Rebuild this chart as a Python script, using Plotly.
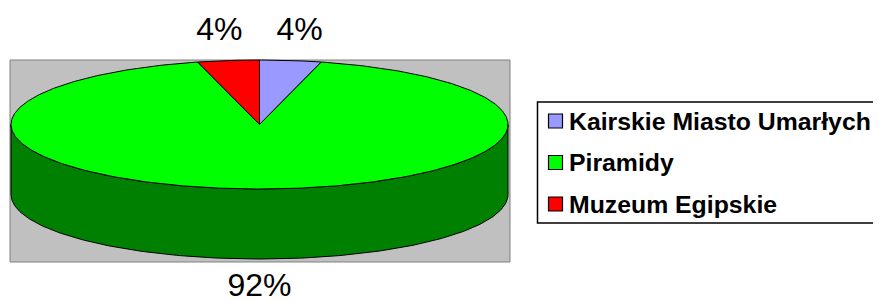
import numpy as np
import plotly.graph_objects as go

# ---- data ----
categories = ["Kairskie Miasto Umarłych", "Piramidy", "Muzeum Egipskie"]
values = [4, 92, 4]
top_colors = ["#9999FF", "#00FF00", "#FF0000"]
side_colors = ["#5C5C99", "#008000", "#990000"]

# ---- geometry (page pixel space; the page body has an 8px margin) ----
W, H = 881, 302
OFF = 8
cx, cy, rx, ry, depth = 259.5, 124.5, 248.5, 64.5, 70

def pt(theta_deg, dy=0.0):
    t = np.radians(theta_deg)
    return cx + rx * np.sin(t), cy - ry * np.cos(t) + dy

fig = go.Figure()

total = float(sum(values))
bounds = []
acc = 0.0
for v in values:
    a0 = acc / total * 360
    acc += v
    a1 = acc / total * 360
    bounds.append((a0, a1))

# side walls (visible front half: 90..270 deg)
for (a0, a1), col in zip(bounds, side_colors):
    s0, s1 = max(a0, 90), min(a1, 270)
    if s1 <= s0:
        continue
    th = np.linspace(s0, s1, 200)
    xt, yt = pt(th)
    xb, yb = pt(th[::-1], depth)
    xs = np.concatenate([xt, xb, xt[:1]])
    ys = np.concatenate([yt, yb, yt[:1]])
    fig.add_trace(go.Scatter(x=xs, y=ys, fill="toself", fillcolor=col, mode="lines",
                             line=dict(color="black", width=1), hoverinfo="skip", showlegend=False))

# top faces
for (a0, a1), col in zip(bounds, top_colors):
    th = np.linspace(a0, a1, max(int((a1 - a0) * 2), 10))
    xa, ya = pt(th)
    xs = np.concatenate([[cx], xa, [cx]])
    ys = np.concatenate([[cy], ya, [cy]])
    fig.add_trace(go.Scatter(x=xs, y=ys, fill="toself", fillcolor=col, mode="lines",
                             line=dict(color="black", width=1), hoverinfo="skip", showlegend=False))

# percentage labels
lx, ly = [], []
for (a0, a1) in bounds:
    m = np.radians((a0 + a1) / 2)
    x = cx + rx * 1.29 * np.sin(m)
    c = np.cos(m)
    y = cy - ry * 1.45 * c + (depth if c < 0 else 0)
    lx.append(x)
    ly.append(y)
fig.add_trace(go.Scatter(x=lx, y=ly, mode="text", text=[f"{v}%" for v in values],
                         textfont=dict(family="Liberation Sans, Arial", size=32, color="black"),
                         hoverinfo="skip", showlegend=False))

# legend (manual)
leg_y = [121, 162.5, 204]
fig.add_trace(go.Scatter(x=[555.5] * 3, y=leg_y, mode="markers",
                         marker=dict(symbol="square", size=14, color=top_colors,
                                     line=dict(color="black", width=1.2)),
                         hoverinfo="skip", showlegend=False))
for name, y in zip(categories, leg_y):
    fig.add_annotation(x=567, y=y, text=f"<b>{name}</b>", showarrow=False, xanchor="left",
                       yanchor="middle", font=dict(family="Liberation Sans, Arial", size=24.8, color="black"))

fig.update_layout(
    width=W - OFF, height=H - OFF, margin=dict(l=0, r=0, t=0, b=0),
    paper_bgcolor="white", plot_bgcolor="white",
    xaxis=dict(range=[OFF, W], visible=False, fixedrange=True),
    yaxis=dict(range=[H, OFF], visible=False, fixedrange=True),
    shapes=[
        dict(type="rect", x0=10, x1=510, y0=60, y1=262, xref="x", yref="y",
             fillcolor="#C0C0C0", line=dict(color="#808080", width=1), layer="below"),
        dict(type="rect", x0=537.5, x1=890, y0=102, y1=223, xref="x", yref="y",
             fillcolor="white", line=dict(color="black", width=1.5), layer="below"),
    ],
)

fig.write_html("out.html")
